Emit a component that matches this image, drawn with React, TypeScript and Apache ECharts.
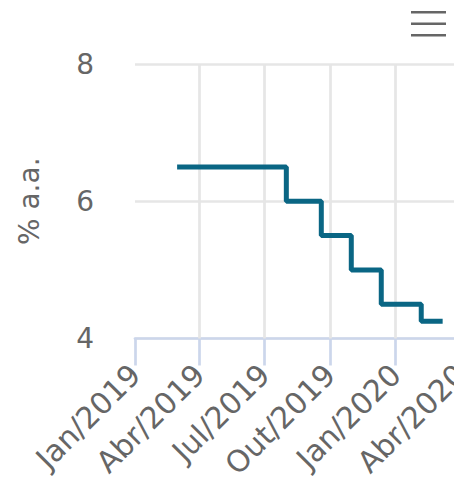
import React, { useEffect, useRef } from "react";
import * as echarts from "echarts";

const tickDates = ["2019-01-01", "2019-04-01", "2019-07-01", "2019-10-01", "2020-01-01", "2020-04-01"];
const tickLabels = ["Jan/2019", "Abr/2019", "Jul/2019", "Out/2019", "Jan/2020", "Abr/2020"];
const rateDates = ["2019-03-01", "2019-08-01", "2019-09-19", "2019-10-31", "2019-12-12", "2020-02-06", "2020-03-07"];
const rateValues = [6.5, 6.0, 5.5, 5.0, 4.5, 4.25, 4.25];
const yTicks = [4, 6, 8];
const yTitle = "% a.a.";

const ts = (d: string) => Date.parse(d + "T00:00:00Z");

export default function App() {
  const ref = useRef<HTMLDivElement>(null);
  useEffect(() => {
    if (!ref.current) return;
    const chart = echarts.init(ref.current, undefined, { renderer: "svg" });
    const tickTs = tickDates.map(ts);
    const font = "DejaVu Sans";
    const fs = 28;
    chart.setOption({
      animation: false,
      textStyle: { fontFamily: font },
      grid: { left: 135, right: 1.5, top: 64, bottom: 157.5, outerBoundsMode: "none", containLabel: false },
      graphic: [
        { type: "rect", shape: { x: 411, y: 11, width: 35, height: 2.5 }, style: { fill: "#666666" } },
        { type: "rect", shape: { x: 411, y: 22.5, width: 35, height: 2.5 }, style: { fill: "#666666" } },
        { type: "rect", shape: { x: 411, y: 34, width: 35, height: 2.5 }, style: { fill: "#666666" } },
      ],
      xAxis: {
        type: "value",
        min: tickTs[0],
        max: tickTs[tickTs.length - 1],
        axisLine: { show: true, lineStyle: { color: "#ccd6eb", width: 2.7 } },
        axisTick: { show: true, customValues: tickTs, length: 27, lineStyle: { color: "#ccd6eb", width: 2.7 } },
        axisLabel: {
          customValues: tickTs,
          rotate: 45,
          margin: 31,
          color: "#666666",
          fontSize: 30,
          fontFamily: font,
          hideOverlap: false,
          formatter: (v: number) => {
            const i = tickTs.indexOf(v);
            return i >= 0 ? tickLabels[i] : "";
          },
        },
        splitLine: { show: false },
      },
      yAxis: {
        type: "value",
        min: yTicks[0],
        max: yTicks[yTicks.length - 1],
        interval: 2,
        name: yTitle,
        nameLocation: "middle",
        nameGap: 92,
        nameRotate: 90,
        nameTextStyle: { color: "#666666", fontSize: fs, fontFamily: font },
        axisLine: { show: false },
        axisTick: { show: false },
        axisLabel: { margin: 41, color: "#666666", fontSize: fs, fontFamily: font },
        splitLine: { show: true, lineStyle: { color: "#e6e6e6", width: 2.7 } },
      },
      series: [
        {
          type: "line",
          step: "end",
          symbol: "none",
          lineStyle: { color: "#0a6684", width: 5 },
          data: rateDates.map((d, i) => [ts(d), rateValues[i]]),
          markLine: {
            silent: true,
            symbol: "none",
            label: { show: false },
            lineStyle: { color: "#e6e6e6", width: 2.7, type: "solid" },
            z: 1,
            data: tickTs.slice(1).map((t) => ({ xAxis: t })),
          },
          z: 3,
        },
      ],
    });
    return () => chart.dispose();
  }, []);
  return <div ref={ref} style={{ width: 462, height: 496, margin: -8 }} />;
}
